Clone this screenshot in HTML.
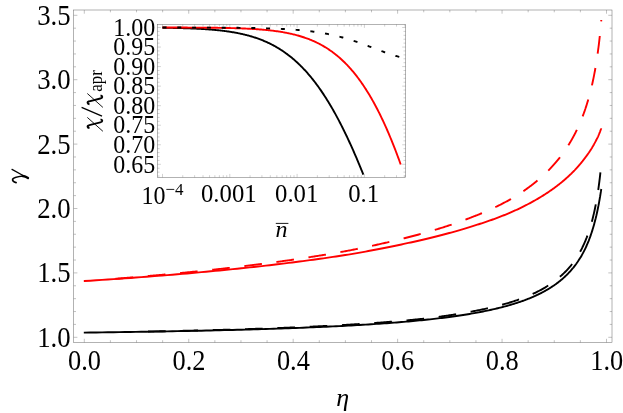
<!DOCTYPE html>
<html><head><meta charset="utf-8"><title>plot</title>
<style>
html,body{margin:0;padding:0;background:#fff;}
svg{display:block;will-change:transform;}
text{font-family:"Liberation Serif",serif;fill:#000;}
</style></head>
<body>
<svg width="623" height="413" viewBox="0 0 623 413">
<rect x="0" y="0" width="623" height="413" fill="#fff"/>
<rect x="73.70" y="10.00" width="538.30" height="332.50" fill="none" stroke="#666" stroke-width="0.5"/>
<path d="M84.30 342.50 v-3.70 M84.30 10.00 v3.70 M110.41 342.50 v-2.30 M110.41 10.00 v2.30 M136.52 342.50 v-2.30 M136.52 10.00 v2.30 M162.63 342.50 v-2.30 M162.63 10.00 v2.30 M188.74 342.50 v-3.70 M188.74 10.00 v3.70 M214.85 342.50 v-2.30 M214.85 10.00 v2.30 M240.96 342.50 v-2.30 M240.96 10.00 v2.30 M267.07 342.50 v-2.30 M267.07 10.00 v2.30 M293.18 342.50 v-3.70 M293.18 10.00 v3.70 M319.29 342.50 v-2.30 M319.29 10.00 v2.30 M345.40 342.50 v-2.30 M345.40 10.00 v2.30 M371.51 342.50 v-2.30 M371.51 10.00 v2.30 M397.62 342.50 v-3.70 M397.62 10.00 v3.70 M423.73 342.50 v-2.30 M423.73 10.00 v2.30 M449.84 342.50 v-2.30 M449.84 10.00 v2.30 M475.95 342.50 v-2.30 M475.95 10.00 v2.30 M502.06 342.50 v-3.70 M502.06 10.00 v3.70 M528.17 342.50 v-2.30 M528.17 10.00 v2.30 M554.28 342.50 v-2.30 M554.28 10.00 v2.30 M580.39 342.50 v-2.30 M580.39 10.00 v2.30 M606.50 342.50 v-3.70 M606.50 10.00 v3.70 M73.70 337.30 h3.70 M612.00 337.30 h-3.70 M73.70 324.42 h2.30 M612.00 324.42 h-2.30 M73.70 311.54 h2.30 M612.00 311.54 h-2.30 M73.70 298.66 h2.30 M612.00 298.66 h-2.30 M73.70 285.78 h2.30 M612.00 285.78 h-2.30 M73.70 272.90 h3.70 M612.00 272.90 h-3.70 M73.70 260.02 h2.30 M612.00 260.02 h-2.30 M73.70 247.14 h2.30 M612.00 247.14 h-2.30 M73.70 234.26 h2.30 M612.00 234.26 h-2.30 M73.70 221.38 h2.30 M612.00 221.38 h-2.30 M73.70 208.50 h3.70 M612.00 208.50 h-3.70 M73.70 195.62 h2.30 M612.00 195.62 h-2.30 M73.70 182.74 h2.30 M612.00 182.74 h-2.30 M73.70 169.86 h2.30 M612.00 169.86 h-2.30 M73.70 156.98 h2.30 M612.00 156.98 h-2.30 M73.70 144.10 h3.70 M612.00 144.10 h-3.70 M73.70 131.22 h2.30 M612.00 131.22 h-2.30 M73.70 118.34 h2.30 M612.00 118.34 h-2.30 M73.70 105.46 h2.30 M612.00 105.46 h-2.30 M73.70 92.58 h2.30 M612.00 92.58 h-2.30 M73.70 79.70 h3.70 M612.00 79.70 h-3.70 M73.70 66.82 h2.30 M612.00 66.82 h-2.30 M73.70 53.94 h2.30 M612.00 53.94 h-2.30 M73.70 41.06 h2.30 M612.00 41.06 h-2.30 M73.70 28.18 h2.30 M612.00 28.18 h-2.30 M73.70 15.30 h3.70 M612.00 15.30 h-3.70" stroke="#666" stroke-width="0.40" fill="none"/>
<text transform="translate(70.70 346.80) scale(1.030 1.095)" font-size="26" text-anchor="end">1.0</text>
<text transform="translate(70.70 282.40) scale(1.030 1.095)" font-size="26" text-anchor="end">1.5</text>
<text transform="translate(70.70 218.00) scale(1.030 1.095)" font-size="26" text-anchor="end">2.0</text>
<text transform="translate(70.70 153.60) scale(1.030 1.095)" font-size="26" text-anchor="end">2.5</text>
<text transform="translate(70.70 89.20) scale(1.030 1.095)" font-size="26" text-anchor="end">3.0</text>
<text transform="translate(70.70 24.80) scale(1.030 1.095)" font-size="26" text-anchor="end">3.5</text>
<text transform="translate(84.50 369.70) scale(1.015 1.095)" font-size="26" text-anchor="middle">0.0</text>
<text transform="translate(188.94 369.70) scale(1.015 1.095)" font-size="26" text-anchor="middle">0.2</text>
<text transform="translate(293.38 369.70) scale(1.015 1.095)" font-size="26" text-anchor="middle">0.4</text>
<text transform="translate(397.82 369.70) scale(1.015 1.095)" font-size="26" text-anchor="middle">0.6</text>
<text transform="translate(502.26 369.70) scale(1.015 1.095)" font-size="26" text-anchor="middle">0.8</text>
<text transform="translate(606.70 369.70) scale(1.015 1.095)" font-size="26" text-anchor="middle">1.0</text>
<text x="342.8" y="405.8" font-size="26" font-style="italic" text-anchor="middle">η</text>
<g transform="translate(11.8 183) rotate(-90)" fill="none" stroke="#000" stroke-linecap="round">
<path d="M0.4 4.3 C0.9 1.6 2.6 0.4 3.9 0.9 C5.3 1.5 6.3 6 7.0 11.2" stroke-width="1.7"/>
<path d="M7.0 11.0 C6.8 13 5.8 15 5.0 16.2" stroke-width="2.3"/>
<path d="M13.6 0.2 L6.3 13.5" stroke-width="1.2"/>
</g>
<g fill="none" stroke-width="1.9" stroke-linecap="butt" stroke-linejoin="round">
<path d="M83.80 332.61 L84.30 332.60 L90.29 332.53 L96.22 332.45 L102.07 332.37 L107.86 332.29 L113.58 332.21 L119.24 332.13 L124.83 332.05 L130.36 331.97 L135.82 331.88 L141.22 331.80 L146.56 331.71 L151.84 331.62 L157.06 331.53 L162.22 331.44 L167.31 331.35 L172.35 331.26 L177.34 331.17 L182.26 331.07 L187.13 330.97 L191.94 330.88 L196.70 330.78 L201.40 330.68 L206.05 330.57 L210.65 330.47 L215.19 330.37 L219.68 330.26 L224.12 330.15 L228.51 330.05 L232.84 329.94 L237.13 329.82 L241.37 329.71 L245.56 329.60 L249.70 329.48 L253.80 329.36 L257.84 329.24 L261.84 329.12 L265.80 329.00 L269.71 328.88 L273.57 328.76 L277.39 328.63 L281.17 328.50 L284.90 328.37 L288.59 328.24 L292.24 328.11 L295.85 327.97 L299.41 327.84 L302.94 327.70 L306.42 327.56 L309.86 327.42 L313.27 327.28 L316.63 327.14 L319.96 326.99 L323.25 326.85 L326.50 326.70 L329.71 326.55 L332.89 326.40 L336.03 326.24 L339.13 326.09 L342.20 325.93 L345.23 325.77 L348.23 325.61 L351.19 325.45 L354.12 325.29 L357.02 325.12 L359.88 324.95 L362.71 324.78 L365.51 324.61 L368.28 324.44 L371.01 324.27 L373.71 324.09 L376.38 323.91 L379.02 323.74 L381.63 323.55 L384.22 323.37 L386.77 323.19 L389.29 323.00 L391.78 322.81 L394.24 322.62 L396.68 322.43 L399.09 322.24 L401.47 322.04 L403.82 321.84 L406.15 321.64 L408.45 321.44 L410.72 321.24 L412.97 321.03 L415.19 320.83 L417.38 320.62 L419.55 320.41 L421.70 320.20 L423.82 319.98 L425.91 319.77 L427.99 319.55 L430.03 319.33 L432.06 319.10 L434.06 318.88 L436.04 318.65 L438.00 318.42 L439.93 318.18 L441.84 317.95 L443.73 317.71 L445.60 317.47 L447.45 317.23 L449.27 316.99 L451.07 316.75 L452.86 316.50 L454.62 316.25 L456.36 316.00 L458.09 315.75 L459.79 315.50 L461.47 315.24 L463.14 314.99 L464.78 314.73 L466.41 314.47 L468.02 314.20 L469.61 313.94 L471.18 313.67 L472.73 313.40 L474.27 313.13 L475.78 312.86 L477.28 312.59 L478.77 312.31 L480.23 312.03 L481.68 311.75 L483.11 311.47 L484.53 311.18 L485.93 310.90 L487.31 310.61 L488.68 310.32 L490.03 310.03 L491.37 309.74 L492.69 309.44 L494.00 309.14 L495.29 308.84 L496.56 308.54 L497.82 308.24 L499.07 307.93 L500.30 307.63 L501.52 307.32 L502.73 307.01 L503.92 306.70 L505.10 306.38 L506.26 306.06 L507.41 305.75 L508.55 305.43 L509.67 305.10 L510.78 304.78 L511.88 304.45 L512.97 304.13 L514.04 303.80 L515.10 303.46 L516.15 303.13 L517.19 302.80 L518.21 302.46 L519.22 302.12 L520.23 301.78 L521.22 301.43 L522.19 301.09 L523.16 300.74 L524.12 300.40 L525.06 300.04 L526.00 299.69 L526.92 299.34 L527.83 298.98 L528.74 298.63 L529.63 298.27 L530.51 297.90 L531.38 297.54 L532.25 297.18 L533.10 296.81 L533.94 296.44 L534.77 296.07 L535.60 295.70 L536.41 295.32 L537.21 294.95 L538.01 294.57 L538.80 294.19 L539.57 293.81 L540.34 293.43 L541.10 293.04 L541.85 292.66 L542.59 292.27 L543.33 291.88 L544.05 291.49 L544.77 291.09 L545.48 290.70 L546.18 290.30 L546.87 289.90 L547.55 289.50 L548.23 289.10 L548.90 288.70 L549.56 288.29 L550.21 287.89 L550.86 287.48 L551.50 287.07 L552.13 286.66 L552.75 286.24 L553.37 285.83 L553.98 285.41 L554.58 284.99 L555.18 284.58 L555.77 284.15 L556.35 283.73 L556.92 283.31 L557.49 282.88 L558.05 282.45 L558.61 282.02 L559.16 281.59 L559.70 281.16 L560.24 280.73 L560.77 280.29 L561.30 279.86 L561.81 279.42 L562.33 278.98 L562.83 278.54 L563.34 278.09 L563.83 277.65 L564.32 277.21 L564.80 276.76 L565.28 276.31 L565.76 275.86 L566.22 275.41 L566.69 274.96 L567.14 274.50 L567.59 274.05 L568.04 273.59 L568.48 273.14 L568.92 272.68 L569.35 272.22 L569.78 271.76 L570.20 271.29 L570.61 270.83 L571.03 270.36 L571.43 269.90 L571.83 269.43 L572.23 268.96 L572.63 268.49 L573.01 268.02 L573.40 267.55 L573.78 267.07 L574.15 266.60 L574.53 266.12 L574.89 265.65 L575.26 265.17 L575.61 264.69 L575.97 264.21 L576.32 263.73 L576.66 263.24 L577.01 262.76 L577.35 262.28 L577.68 261.79 L578.01 261.30 L578.34 260.82 L578.66 260.33 L578.98 259.84 L579.30 259.35 L579.61 258.86 L579.92 258.37 L580.22 257.87 L580.52 257.38 L580.82 256.89 L581.12 256.39 L581.41 255.90 L581.70 255.40 L581.98 254.90 L582.26 254.40 L582.54 253.90 L582.81 253.40 L583.09 252.90 L583.36 252.40 L583.62 251.90 L583.88 251.40 L584.14 250.89 L584.40 250.39 L584.65 249.89 L584.90 249.38 L585.15 248.87 L585.40 248.35 L585.64 247.83 L585.88 247.31 L586.11 246.79 L586.35 246.27 L586.58 245.76 L586.81 245.24 L587.03 244.71 L587.26 244.19 L587.48 243.67 L587.70 243.15 L587.91 242.63 L588.13 242.11 L588.34 241.59 L588.55 241.07 L588.75 240.54 L588.96 240.02 L589.16 239.50 L589.36 238.98 L589.55 238.46 L589.75 237.93 L589.94 237.41 L590.13 236.89 L590.32 236.37 L590.50 235.84 L590.69 235.32 L590.87 234.80 L591.05 234.28 L591.22 233.76 L591.40 233.23 L591.57 232.71 L591.74 232.19 L591.91 231.67 L592.08 231.15 L592.25 230.63 L592.41 230.11 L592.57 229.59 L592.73 229.07 L592.89 228.55 L593.05 228.03 L593.20 227.51 L593.35 226.99 L593.50 226.47 L593.65 225.95 L593.80 225.44 L593.95 224.92 L594.09 224.40 L594.23 223.89 L594.37 223.37 L594.51 222.86 L594.65 222.34 L594.79 221.83 L594.92 221.32 L595.05 220.81 L595.18 220.30 L595.31 219.78 L595.44 219.27 L595.57 218.77 L595.69 218.26 L595.82 217.75 L595.94 217.24 L596.06 216.74 L596.18 216.23 L596.30 215.73 L596.42 215.23 L596.53 214.72 L596.65 214.22 L596.76 213.72 L596.87 213.22 L596.98 212.73 L597.09 212.23 L597.20 211.73 L597.31 211.24 L597.41 210.75 L597.52 210.25 L597.62 209.76 L597.72 209.27 L597.82 208.79 L597.92 208.30 L598.02 207.81 L598.12 207.33 L598.21 206.85 L598.31 206.36 L598.40 205.88 L598.50 205.41 L598.59 204.93 L598.68 204.45 L598.77 203.98 L598.86 203.51 L598.94 203.04 L599.03 202.57 L599.12 202.10 L599.20 201.63 L599.29 201.17 L599.37 200.71 L599.45 200.25 L599.53 199.79 L599.61 199.33 L599.69 198.88 L599.77 198.42 L599.85 197.97 L599.92 197.52 L600.00 197.08 L600.07 196.63 L600.15 196.19 L600.22 195.75 L600.29 195.31 L600.36 194.87 L600.43 194.44 L600.50 194.01 L600.57 193.58 L600.64 193.15 L600.71 192.72 L600.77 192.30 L600.84 191.88 L600.90 191.46 L600.97 191.05 L601.03 190.63 L601.09 190.22 L601.16 189.82 L601.22 189.41 L601.28 189.01" stroke="#000"/>
<path d="M147.99 331.56 L148.79 331.54 L149.79 331.52 L150.79 331.50 L151.79 331.48 L152.79 331.46 L153.79 331.44 L154.79 331.42 L155.79 331.40 L156.79 331.39 L157.79 331.36 L158.79 331.34 L159.79 331.32 L160.79 331.30 L161.79 331.28 L162.79 331.26 L163.79 331.24 L164.79 331.22 L165.69 331.20 M180.33 330.88 L181.28 330.86 L182.28 330.84 L183.28 330.82 L184.28 330.79 L185.28 330.77 L186.28 330.75 L187.28 330.72 L188.28 330.70 L189.28 330.68 L190.28 330.65 L191.28 330.63 L192.28 330.61 L193.28 330.58 L194.28 330.56 L195.28 330.53 L196.28 330.51 L197.28 330.49 L198.03 330.47 M212.67 330.09 L213.52 330.07 L214.52 330.04 L215.52 330.02 L216.52 329.99 L217.52 329.96 L218.52 329.94 L219.52 329.91 L220.52 329.88 L221.52 329.85 L222.52 329.83 L223.52 329.80 L224.52 329.77 L225.52 329.74 L226.52 329.71 L227.52 329.69 L228.52 329.66 L229.52 329.63 L230.37 329.60 M245.01 329.16 L245.76 329.14 L246.76 329.11 L247.76 329.08 L248.76 329.04 L249.76 329.01 L250.76 328.98 L251.76 328.95 L252.76 328.91 L253.76 328.88 L254.76 328.85 L255.76 328.82 L256.76 328.78 L257.75 328.75 L258.75 328.72 L259.75 328.68 L260.75 328.65 L261.75 328.61 L262.70 328.58 M277.34 328.05 L278.24 328.02 L279.24 327.98 L280.24 327.94 L281.24 327.91 L282.24 327.87 L283.24 327.83 L284.24 327.79 L285.24 327.75 L286.24 327.71 L287.23 327.67 L288.23 327.63 L289.23 327.59 L290.23 327.55 L291.23 327.51 L292.23 327.47 L293.23 327.43 L294.23 327.39 L295.03 327.35 M309.66 326.72 L310.46 326.68 L311.46 326.63 L312.46 326.59 L313.46 326.54 L314.46 326.49 L315.46 326.45 L316.46 326.40 L317.46 326.35 L318.45 326.30 L319.45 326.26 L320.45 326.21 L321.45 326.16 L322.45 326.11 L323.45 326.06 L324.45 326.01 L325.45 325.96 L326.44 325.91 L327.34 325.86 M341.97 325.08 L342.92 325.02 L343.92 324.97 L344.92 324.91 L345.92 324.85 L346.91 324.79 L347.91 324.73 L348.91 324.68 L349.91 324.62 L350.91 324.56 L351.91 324.50 L352.90 324.44 L353.90 324.37 L354.90 324.31 L355.90 324.25 L356.90 324.19 L357.89 324.13 L358.89 324.06 L359.64 324.01 M374.26 323.03 L375.11 322.97 L376.10 322.89 L377.10 322.82 L378.10 322.75 L379.09 322.67 L380.09 322.60 L381.09 322.52 L382.09 322.45 L383.08 322.37 L384.08 322.30 L385.08 322.22 L386.07 322.14 L387.07 322.06 L388.07 321.98 L389.06 321.90 L390.06 321.82 L391.06 321.74 L391.91 321.67 M406.50 320.40 L407.25 320.33 L408.24 320.23 L409.24 320.14 L410.23 320.04 L411.23 319.95 L412.22 319.85 L413.22 319.75 L414.21 319.65 L415.21 319.56 L416.20 319.46 L417.20 319.35 L418.19 319.25 L419.19 319.15 L420.18 319.04 L421.18 318.94 L422.17 318.83 L423.17 318.73 L424.11 318.62 M438.65 316.84 L439.54 316.72 L440.53 316.58 L441.52 316.45 L442.51 316.31 L443.50 316.17 L444.49 316.03 L445.48 315.89 L446.47 315.74 L447.46 315.60 L448.45 315.45 L449.44 315.31 L450.43 315.16 L451.42 315.01 L452.41 314.85 L453.40 314.70 L454.38 314.55 L455.37 314.39 L456.16 314.26 M470.60 311.76 L471.38 311.61 L472.36 311.43 L473.35 311.24 L474.33 311.05 L475.31 310.86 L476.29 310.67 L477.27 310.48 L478.25 310.28 L479.24 310.09 L480.22 309.89 L481.20 309.69 L482.17 309.49 L483.15 309.28 L484.13 309.08 L485.11 308.87 L486.09 308.65 L487.06 308.44 L487.94 308.24 M502.16 304.73 L503.08 304.48 L504.04 304.21 L505.00 303.94 L505.97 303.66 L506.93 303.38 L507.89 303.10 L508.84 302.81 L509.80 302.52 L510.76 302.23 L511.71 301.93 L512.66 301.62 L513.61 301.32 L514.56 301.00 L515.51 300.69 L516.46 300.37 L517.41 300.04 L518.35 299.71 L519.06 299.46 M532.64 293.98 L533.41 293.62 L534.31 293.20 L535.22 292.77 L536.12 292.33 L537.01 291.89 L537.91 291.44 L538.80 290.98 L539.68 290.52 L540.56 290.05 L541.44 289.57 L542.32 289.08 L543.19 288.59 L544.05 288.09 L544.92 287.59 L545.77 287.07 L546.63 286.55 L547.48 286.02 L548.19 285.56 M559.92 276.80 L560.48 276.31 L561.23 275.65 L561.97 274.98 L562.71 274.30 L563.44 273.61 L564.16 272.92 L564.87 272.22 L565.57 271.51 L566.27 270.79 L566.95 270.06 L567.63 269.32 L568.30 268.58 L568.96 267.83 L569.61 267.07 L570.26 266.31 L570.89 265.53 L571.52 264.76 L572.10 264.01 M580.12 251.76 L580.55 250.97 L581.02 250.09 L581.49 249.21 L581.94 248.31 L582.39 247.42 L582.82 246.52 L583.25 245.62 L583.68 244.71 L584.09 243.80 L584.50 242.89 L584.90 241.97 L585.29 241.05 L585.67 240.13 L586.05 239.20 L586.41 238.27 L586.78 237.34 L587.13 236.40 L587.41 235.65 M591.83 221.69 L592.04 220.92 L592.30 219.95 L592.55 218.99 L592.80 218.02 L593.04 217.05 L593.27 216.07 L593.51 215.10 L593.74 214.13 L593.96 213.15 L594.18 212.18 L594.40 211.20 L594.61 210.22 L594.82 209.25 L595.02 208.27 L595.22 207.29 L595.42 206.31 L595.61 205.33 L595.78 204.44 M598.21 190.00 L598.35 189.06 L598.49 188.07 L598.63 187.08 L598.76 186.09 L598.90 185.09 L599.03 184.10 L599.16 183.11 L599.29 182.12 L599.41 181.13 L599.53 180.13 L599.66 179.14 L599.78 178.15 L599.89 177.16 L600.01 176.16 L600.12 175.17 L600.23 174.18 L600.34 173.18 L600.42 172.44" stroke="#000"/>
<path d="M83.80 281.09 L84.30 281.06 L90.29 280.68 L96.22 280.29 L102.07 279.90 L107.86 279.51 L113.58 279.12 L119.24 278.73 L124.83 278.33 L130.36 277.94 L135.82 277.54 L141.22 277.14 L146.56 276.73 L151.84 276.33 L157.06 275.92 L162.22 275.51 L167.31 275.10 L172.35 274.69 L177.34 274.27 L182.26 273.86 L187.13 273.44 L191.94 273.02 L196.70 272.60 L201.40 272.17 L206.05 271.75 L210.65 271.32 L215.19 270.89 L219.68 270.46 L224.12 270.03 L228.51 269.60 L232.84 269.16 L237.13 268.73 L241.37 268.29 L245.56 267.85 L249.70 267.41 L253.80 266.97 L257.84 266.53 L261.84 266.08 L265.80 265.63 L269.71 265.19 L273.57 264.74 L277.39 264.29 L281.17 263.84 L284.90 263.38 L288.59 262.93 L292.24 262.47 L295.85 262.02 L299.41 261.56 L302.94 261.10 L306.42 260.64 L309.86 260.18 L313.27 259.72 L316.63 259.26 L319.96 258.79 L323.25 258.33 L326.50 257.86 L329.71 257.39 L332.89 256.92 L336.03 256.45 L339.13 255.98 L342.20 255.51 L345.23 255.04 L348.23 254.57 L351.19 254.08 L354.12 253.58 L357.02 253.08 L359.88 252.57 L362.71 252.07 L365.51 251.56 L368.28 251.05 L371.01 250.55 L373.71 250.04 L376.38 249.53 L379.02 249.03 L381.63 248.52 L384.22 248.01 L386.77 247.50 L389.29 246.99 L391.78 246.48 L394.24 245.98 L396.68 245.47 L399.09 244.96 L401.47 244.45 L403.82 243.94 L406.15 243.43 L408.45 242.94 L410.72 242.45 L412.97 241.96 L415.19 241.46 L417.38 240.97 L419.55 240.48 L421.70 239.98 L423.82 239.49 L425.91 238.99 L427.99 238.50 L430.03 238.00 L432.06 237.51 L434.06 237.01 L436.04 236.52 L438.00 236.02 L439.93 235.52 L441.84 235.03 L443.73 234.53 L445.60 234.04 L447.45 233.54 L449.27 233.04 L451.07 232.55 L452.86 232.05 L454.62 231.55 L456.36 231.06 L458.09 230.56 L459.79 230.06 L461.47 229.56 L463.14 229.07 L464.78 228.57 L466.41 228.07 L468.02 227.58 L469.61 227.08 L471.18 226.60 L472.73 226.13 L474.27 225.66 L475.78 225.18 L477.28 224.71 L478.77 224.24 L480.23 223.76 L481.68 223.29 L483.11 222.82 L484.53 222.34 L485.93 221.87 L487.31 221.40 L488.68 220.92 L490.03 220.45 L491.37 219.98 L492.69 219.50 L494.00 219.03 L495.29 218.56 L496.56 218.09 L497.82 217.61 L499.07 217.14 L500.30 216.67 L501.52 216.20 L502.73 215.73 L503.92 215.25 L505.10 214.78 L506.26 214.31 L507.41 213.84 L508.55 213.37 L509.67 212.90 L510.78 212.42 L511.88 211.94 L512.97 211.45 L514.04 210.97 L515.10 210.48 L516.15 210.00 L517.19 209.52 L518.21 209.03 L519.22 208.55 L520.23 208.07 L521.22 207.59 L522.19 207.11 L523.16 206.63 L524.12 206.15 L525.06 205.68 L526.00 205.20 L526.92 204.72 L527.83 204.25 L528.74 203.78 L529.63 203.30 L530.51 202.83 L531.38 202.36 L532.25 201.89 L533.10 201.41 L533.94 200.94 L534.77 200.48 L535.60 200.01 L536.41 199.54 L537.21 199.07 L538.01 198.61 L538.80 198.14 L539.57 197.68 L540.34 197.22 L541.10 196.76 L541.85 196.30 L542.59 195.84 L543.33 195.38 L544.05 194.92 L544.77 194.46 L545.48 194.01 L546.18 193.55 L546.87 193.10 L547.55 192.64 L548.23 192.19 L548.90 191.74 L549.56 191.29 L550.21 190.84 L550.86 190.39 L551.50 189.95 L552.13 189.50 L552.75 189.06 L553.37 188.61 L553.98 188.17 L554.58 187.73 L555.18 187.29 L555.77 186.85 L556.35 186.41 L556.92 185.98 L557.49 185.54 L558.05 185.11 L558.61 184.68 L559.16 184.24 L559.70 183.81 L560.24 183.38 L560.77 182.95 L561.30 182.53 L561.81 182.10 L562.33 181.68 L562.83 181.25 L563.34 180.83 L563.83 180.41 L564.32 179.99 L564.80 179.57 L565.28 179.16 L565.76 178.74 L566.22 178.33 L566.69 177.91 L567.14 177.50 L567.59 177.09 L568.04 176.68 L568.48 176.28 L568.92 175.87 L569.35 175.46 L569.78 175.06 L570.20 174.66 L570.61 174.26 L571.03 173.86 L571.43 173.46 L571.83 173.06 L572.23 172.67 L572.63 172.28 L573.01 171.88 L573.40 171.49 L573.78 171.10 L574.15 170.72 L574.53 170.33 L574.89 169.94 L575.26 169.56 L575.61 169.18 L575.97 168.80 L576.32 168.42 L576.66 168.04 L577.01 167.66 L577.35 167.29 L577.68 166.92 L578.01 166.54 L578.34 166.17 L578.66 165.81 L578.98 165.44 L579.30 165.07 L579.61 164.71 L579.92 164.35 L580.22 163.99 L580.52 163.63 L580.82 163.27 L581.12 162.91 L581.41 162.56 L581.70 162.20 L581.98 161.85 L582.26 161.50 L582.54 161.16 L582.81 160.81 L583.09 160.46 L583.36 160.12 L583.62 159.78 L583.88 159.44 L584.14 159.10 L584.40 158.76 L584.65 158.43 L584.90 158.09 L585.15 157.76 L585.40 157.44 L585.64 157.12 L585.88 156.80 L586.11 156.48 L586.35 156.16 L586.58 155.85 L586.81 155.53 L587.03 155.22 L587.26 154.91 L587.48 154.60 L587.70 154.29 L587.91 153.99 L588.13 153.68 L588.34 153.38 L588.55 153.08 L588.75 152.78 L588.96 152.48 L589.16 152.18 L589.36 151.89 L589.55 151.60 L589.75 151.31 L589.94 151.02 L590.13 150.73 L590.32 150.44 L590.50 150.16 L590.69 149.87 L590.87 149.59 L591.05 149.31 L591.22 149.03 L591.40 148.76 L591.57 148.48 L591.74 148.21 L591.91 147.94 L592.08 147.66 L592.25 147.38 L592.41 147.10 L592.57 146.82 L592.73 146.55 L592.89 146.27 L593.05 146.00 L593.20 145.73 L593.35 145.46 L593.50 145.20 L593.65 144.93 L593.80 144.67 L593.95 144.41 L594.09 144.15 L594.23 143.89 L594.37 143.64 L594.51 143.38 L594.65 143.13 L594.79 142.88 L594.92 142.63 L595.05 142.39 L595.18 142.14 L595.31 141.90 L595.44 141.66 L595.57 141.42 L595.69 141.18 L595.82 140.95 L595.94 140.71 L596.06 140.48 L596.18 140.25 L596.30 140.02 L596.42 139.80 L596.53 139.57 L596.65 139.35 L596.76 139.13 L596.87 138.91 L596.98 138.69 L597.09 138.48 L597.20 138.27 L597.31 138.05 L597.41 137.84 L597.52 137.64 L597.62 137.43 L597.72 137.23 L597.82 137.02 L597.92 136.82 L598.02 136.62 L598.12 136.39 L598.21 136.16 L598.31 135.93 L598.40 135.70 L598.50 135.48 L598.59 135.26 L598.68 135.04 L598.77 134.83 L598.86 134.61 L598.94 134.40 L599.03 134.19 L599.12 133.98 L599.20 133.78 L599.29 133.57 L599.37 133.37 L599.45 133.17 L599.53 132.98 L599.61 132.78 L599.69 132.59 L599.77 132.40 L599.85 132.21 L599.92 132.02 L600.00 131.84 L600.07 131.63 L600.15 131.42 L600.22 131.21 L600.29 131.00 L600.36 130.80 L600.43 130.60 L600.50 130.40 L600.57 130.20 L600.64 130.01 L600.71 129.82 L600.77 129.63 L600.84 129.44 L600.90 129.26 L600.97 129.08 L601.03 128.89 L601.09 128.72 L601.16 128.54 L601.22 128.37 L601.28 128.20" stroke="#f00"/>
<path d="M115.56 278.74 L116.46 278.67 L117.46 278.60 L118.45 278.52 L119.45 278.44 L120.45 278.36 L121.44 278.28 L122.44 278.20 L123.44 278.12 L124.44 278.04 L125.43 277.96 L126.43 277.88 L127.43 277.79 L128.42 277.71 L129.42 277.63 L130.42 277.55 L131.41 277.47 L132.41 277.38 L133.21 277.32 M147.80 276.07 L148.60 276.00 L149.60 275.91 L150.59 275.82 L151.59 275.74 L152.58 275.65 L153.58 275.56 L154.58 275.47 L155.57 275.38 L156.57 275.29 L157.56 275.20 L158.56 275.11 L159.56 275.02 L160.55 274.93 L161.55 274.84 L162.54 274.75 L163.54 274.65 L164.53 274.56 L165.43 274.48 M180.01 273.09 L180.96 273.00 L181.96 272.90 L182.95 272.81 L183.95 272.71 L184.94 272.61 L185.94 272.51 L186.93 272.41 L187.93 272.31 L188.92 272.21 L189.92 272.11 L190.91 272.01 L191.91 271.91 L192.90 271.81 L193.90 271.71 L194.89 271.61 L195.89 271.51 L196.88 271.40 L197.63 271.33 M212.20 269.79 L213.04 269.70 L214.03 269.59 L215.03 269.48 L216.02 269.37 L217.02 269.26 L218.01 269.15 L219.00 269.04 L220.00 268.93 L220.99 268.82 L221.99 268.71 L222.98 268.60 L223.97 268.49 L224.97 268.38 L225.96 268.26 L226.95 268.15 L227.95 268.04 L228.94 267.92 L229.79 267.83 M244.34 266.11 L245.08 266.02 L246.07 265.90 L247.07 265.78 L248.06 265.66 L249.05 265.54 L250.04 265.41 L251.04 265.29 L252.03 265.17 L253.02 265.05 L254.01 264.92 L255.00 264.80 L256.00 264.67 L256.99 264.55 L257.98 264.42 L258.97 264.29 L259.97 264.17 L260.96 264.04 L261.90 263.92 M276.42 262.00 L277.31 261.88 L278.31 261.74 L279.30 261.61 L280.29 261.47 L281.28 261.33 L282.27 261.20 L283.26 261.06 L284.25 260.92 L285.24 260.78 L286.23 260.64 L287.22 260.50 L288.21 260.36 L289.20 260.22 L290.19 260.08 L291.18 259.94 L292.17 259.79 L293.16 259.65 L293.95 259.53 M308.44 257.36 L309.23 257.24 L310.22 257.09 L311.21 256.93 L312.19 256.78 L313.18 256.63 L314.17 256.47 L315.16 256.31 L316.14 256.16 L317.13 256.00 L318.12 255.84 L319.11 255.68 L320.09 255.52 L321.08 255.36 L322.07 255.20 L323.06 255.04 L324.04 254.88 L325.03 254.71 L325.92 254.57 M340.36 252.09 L341.29 251.92 L342.28 251.75 L343.26 251.57 L344.24 251.39 L345.23 251.22 L346.21 251.04 L347.20 250.86 L348.18 250.68 L349.16 250.49 L350.14 250.31 L351.13 250.12 L352.11 249.93 L353.09 249.74 L354.07 249.54 L355.05 249.35 L356.03 249.15 L357.01 248.95 L357.75 248.80 M372.09 245.81 L372.92 245.63 L373.89 245.41 L374.87 245.20 L375.85 244.98 L376.82 244.77 L377.80 244.55 L378.78 244.33 L379.75 244.12 L380.73 243.90 L381.70 243.68 L382.68 243.45 L383.65 243.23 L384.63 243.01 L385.60 242.78 L386.58 242.56 L387.55 242.33 L388.52 242.10 L389.35 241.90 M403.58 238.41 L404.31 238.23 L405.28 237.98 L406.24 237.74 L407.21 237.49 L408.18 237.25 L409.15 237.00 L410.12 236.75 L411.09 236.51 L412.06 236.26 L413.03 236.00 L413.99 235.75 L414.96 235.50 L415.93 235.24 L416.89 234.98 L417.86 234.72 L418.82 234.46 L419.79 234.20 L420.71 233.95 M434.79 229.92 L435.65 229.66 L436.61 229.37 L437.56 229.07 L438.52 228.78 L439.48 228.49 L440.43 228.19 L441.39 227.89 L442.34 227.59 L443.29 227.29 L444.25 226.98 L445.20 226.68 L446.15 226.37 L447.10 226.06 L448.05 225.75 L449.00 225.43 L449.95 225.12 L450.90 224.80 L451.65 224.55 M465.45 219.62 L466.20 219.34 L467.14 218.99 L468.07 218.63 L469.00 218.27 L469.94 217.91 L470.87 217.55 L471.80 217.20 L472.74 216.84 L473.67 216.48 L474.60 216.12 L475.53 215.75 L476.46 215.38 L477.39 215.01 L478.32 214.64 L479.25 214.26 L480.17 213.88 L481.09 213.50 L481.93 213.15 M495.30 207.17 L496.15 206.76 L497.05 206.32 L497.95 205.88 L498.85 205.44 L499.74 204.99 L500.64 204.54 L501.53 204.09 L502.42 203.63 L503.30 203.17 L504.19 202.71 L505.07 202.24 L505.96 201.77 L506.84 201.30 L507.71 200.82 L508.59 200.33 L509.46 199.85 L510.33 199.35 L510.98 198.98 M523.37 191.15 L524.07 190.67 L524.89 190.10 L525.71 189.53 L526.52 188.95 L527.34 188.37 L528.15 187.78 L528.95 187.19 L529.76 186.60 L530.56 186.00 L531.35 185.39 L532.14 184.78 L532.93 184.17 L533.72 183.55 L534.50 182.93 L535.28 182.30 L536.06 181.67 L536.83 181.03 L537.48 180.49 M548.26 170.58 L548.79 170.05 L549.49 169.33 L550.18 168.61 L550.87 167.88 L551.55 167.15 L552.23 166.42 L552.91 165.68 L553.57 164.94 L554.24 164.19 L554.90 163.43 L555.55 162.68 L556.20 161.92 L556.84 161.15 L557.48 160.38 L558.11 159.61 L558.74 158.83 L559.36 158.04 L559.94 157.29 M568.34 145.30 L568.82 144.53 L569.34 143.68 L569.86 142.83 L570.37 141.97 L570.88 141.11 L571.38 140.24 L571.88 139.37 L572.37 138.50 L572.85 137.63 L573.33 136.75 L573.80 135.87 L574.27 134.98 L574.73 134.10 L575.19 133.21 L575.64 132.31 L576.09 131.42 L576.53 130.52 L576.88 129.80 M582.65 116.34 L582.94 115.60 L583.29 114.66 L583.64 113.72 L583.98 112.78 L584.31 111.84 L584.65 110.90 L584.97 109.95 L585.30 109.01 L585.61 108.06 L585.93 107.11 L586.24 106.16 L586.54 105.20 L586.84 104.25 L587.14 103.30 L587.43 102.34 L587.72 101.38 L588.00 100.42 L588.26 99.56 M591.92 85.38 L592.14 84.45 L592.35 83.48 L592.57 82.50 L592.78 81.52 L592.99 80.54 L593.20 79.57 L593.40 78.59 L593.60 77.61 L593.80 76.63 L594.00 75.65 L594.19 74.66 L594.38 73.68 L594.56 72.70 L594.75 71.72 L594.93 70.73 L595.10 69.75 L595.28 68.76 L595.41 68.03 M597.66 53.55 L597.78 52.71 L597.91 51.72 L598.04 50.73 L598.17 49.74 L598.30 48.74 L598.43 47.75 L598.55 46.76 L598.68 45.77 L598.80 44.77 L598.92 43.78 L599.03 42.79 L599.15 41.80 L599.26 40.80 L599.37 39.81 L599.48 38.81 L599.59 37.82 L599.70 36.83 L599.79 35.98 M601.16 21.40 L601.23 20.65 L601.28 20.03" stroke="#f00"/>
</g>
<rect x="157.40" y="24.40" width="248.30" height="153.00" fill="#fff" stroke="#666" stroke-width="0.5"/>
<path d="M157.40 176.04 h2.20 M405.70 176.04 h-2.20 M157.40 172.13 h2.20 M405.70 172.13 h-2.20 M157.40 168.22 h2.20 M405.70 168.22 h-2.20 M157.40 164.31 h3.50 M405.70 164.31 h-3.50 M157.40 160.41 h2.20 M405.70 160.41 h-2.20 M157.40 156.50 h2.20 M405.70 156.50 h-2.20 M157.40 152.59 h2.20 M405.70 152.59 h-2.20 M157.40 148.68 h2.20 M405.70 148.68 h-2.20 M157.40 144.77 h3.50 M405.70 144.77 h-3.50 M157.40 140.86 h2.20 M405.70 140.86 h-2.20 M157.40 136.95 h2.20 M405.70 136.95 h-2.20 M157.40 133.04 h2.20 M405.70 133.04 h-2.20 M157.40 129.13 h2.20 M405.70 129.13 h-2.20 M157.40 125.22 h3.50 M405.70 125.22 h-3.50 M157.40 121.32 h2.20 M405.70 121.32 h-2.20 M157.40 117.41 h2.20 M405.70 117.41 h-2.20 M157.40 113.50 h2.20 M405.70 113.50 h-2.20 M157.40 109.59 h2.20 M405.70 109.59 h-2.20 M157.40 105.68 h3.50 M405.70 105.68 h-3.50 M157.40 101.77 h2.20 M405.70 101.77 h-2.20 M157.40 97.86 h2.20 M405.70 97.86 h-2.20 M157.40 93.95 h2.20 M405.70 93.95 h-2.20 M157.40 90.04 h2.20 M405.70 90.04 h-2.20 M157.40 86.14 h3.50 M405.70 86.14 h-3.50 M157.40 82.23 h2.20 M405.70 82.23 h-2.20 M157.40 78.32 h2.20 M405.70 78.32 h-2.20 M157.40 74.41 h2.20 M405.70 74.41 h-2.20 M157.40 70.50 h2.20 M405.70 70.50 h-2.20 M157.40 66.59 h3.50 M405.70 66.59 h-3.50 M157.40 62.68 h2.20 M405.70 62.68 h-2.20 M157.40 58.77 h2.20 M405.70 58.77 h-2.20 M157.40 54.86 h2.20 M405.70 54.86 h-2.20 M157.40 50.95 h2.20 M405.70 50.95 h-2.20 M157.40 47.05 h3.50 M405.70 47.05 h-3.50 M157.40 43.14 h2.20 M405.70 43.14 h-2.20 M157.40 39.23 h2.20 M405.70 39.23 h-2.20 M157.40 35.32 h2.20 M405.70 35.32 h-2.20 M157.40 31.41 h2.20 M405.70 31.41 h-2.20 M157.40 27.50 h3.50 M405.70 27.50 h-3.50 M162.50 177.40 v-3.50 M162.50 24.40 v3.50 M182.76 177.40 v-2.20 M182.76 24.40 v2.20 M194.61 177.40 v-2.20 M194.61 24.40 v2.20 M203.02 177.40 v-2.20 M203.02 24.40 v2.20 M209.54 177.40 v-2.20 M209.54 24.40 v2.20 M214.87 177.40 v-2.20 M214.87 24.40 v2.20 M219.38 177.40 v-2.20 M219.38 24.40 v2.20 M223.28 177.40 v-2.20 M223.28 24.40 v2.20 M226.72 177.40 v-2.20 M226.72 24.40 v2.20 M229.80 177.40 v-3.50 M229.80 24.40 v3.50 M250.06 177.40 v-2.20 M250.06 24.40 v2.20 M261.91 177.40 v-2.20 M261.91 24.40 v2.20 M270.32 177.40 v-2.20 M270.32 24.40 v2.20 M276.84 177.40 v-2.20 M276.84 24.40 v2.20 M282.17 177.40 v-2.20 M282.17 24.40 v2.20 M286.68 177.40 v-2.20 M286.68 24.40 v2.20 M290.58 177.40 v-2.20 M290.58 24.40 v2.20 M294.02 177.40 v-2.20 M294.02 24.40 v2.20 M297.10 177.40 v-3.50 M297.10 24.40 v3.50 M317.36 177.40 v-2.20 M317.36 24.40 v2.20 M329.21 177.40 v-2.20 M329.21 24.40 v2.20 M337.62 177.40 v-2.20 M337.62 24.40 v2.20 M344.14 177.40 v-2.20 M344.14 24.40 v2.20 M349.47 177.40 v-2.20 M349.47 24.40 v2.20 M353.98 177.40 v-2.20 M353.98 24.40 v2.20 M357.88 177.40 v-2.20 M357.88 24.40 v2.20 M361.32 177.40 v-2.20 M361.32 24.40 v2.20 M364.40 177.40 v-3.50 M364.40 24.40 v3.50 M384.66 177.40 v-2.20 M384.66 24.40 v2.20 M396.51 177.40 v-2.20 M396.51 24.40 v2.20 M404.92 177.40 v-2.20 M404.92 24.40 v2.20" stroke="#666" stroke-width="0.3" fill="none"/>
<text transform="translate(155.30 172.51) scale(1.000 1.035)" font-size="24" text-anchor="end">0.65</text>
<text transform="translate(155.30 152.97) scale(1.000 1.035)" font-size="24" text-anchor="end">0.70</text>
<text transform="translate(155.30 133.42) scale(1.000 1.035)" font-size="24" text-anchor="end">0.75</text>
<text transform="translate(155.30 113.88) scale(1.000 1.035)" font-size="24" text-anchor="end">0.80</text>
<text transform="translate(155.30 94.34) scale(1.000 1.035)" font-size="24" text-anchor="end">0.85</text>
<text transform="translate(155.30 74.79) scale(1.000 1.035)" font-size="24" text-anchor="end">0.90</text>
<text transform="translate(155.30 55.25) scale(1.000 1.035)" font-size="24" text-anchor="end">0.95</text>
<text transform="translate(155.30 35.70) scale(1.000 1.035)" font-size="24" text-anchor="end">1.00</text>
<text transform="translate(162.50 203.90) scale(1.000 1.040)" font-size="24" text-anchor="middle">10<tspan font-size="17" dy="-8.6">−4</tspan></text>
<text transform="translate(228.80 202.40) scale(1.030 1.050)" font-size="24" text-anchor="middle">0.001</text>
<text transform="translate(296.70 202.40) scale(1.030 1.050)" font-size="24" text-anchor="middle">0.01</text>
<text transform="translate(363.70 202.40) scale(1.030 1.050)" font-size="24" text-anchor="middle">0.1</text>
<text x="281.5" y="237" font-size="24" font-style="italic" text-anchor="middle">n</text>
<path d="M275.8 223.4 H288.4" stroke="#000" stroke-width="0.9"/>
<g transform="translate(98.4 131.7) rotate(-90)" fill="none" stroke="#000">
<g transform="translate(0.0 -11.5)"><path d="M3.6 2.6 C4.0 0.4 5.9 -0.2 6.5 2.4 L9.3 13.4 C9.9 16.2 11.8 15.8 12.3 13.6" stroke-width="1.9"/><path d="M14.3 0.4 L0.4 16.0" stroke-width="0.9"/></g>
<g transform="translate(23.9 -11.5)"><path d="M3.6 2.6 C4.0 0.4 5.9 -0.2 6.5 2.4 L9.3 13.4 C9.9 16.2 11.8 15.8 12.3 13.6" stroke-width="1.9"/><path d="M14.3 0.4 L0.4 16.0" stroke-width="0.9"/></g>
<path d="M15.6 3.6 L24.3 -16.8" stroke-width="1.3"/>
<text transform="translate(40.0 3.6) scale(1 1.09)" font-size="17" stroke="none">apr</text>
</g>
<g fill="none" stroke-width="1.9" stroke-linecap="butt" stroke-linejoin="round">
<path d="M162.50 27.77 L163.17 27.78 L163.85 27.79 L164.52 27.79 L165.20 27.80 L165.87 27.81 L166.54 27.82 L167.22 27.83 L167.89 27.84 L168.57 27.85 L169.24 27.86 L169.91 27.88 L170.59 27.89 L171.26 27.90 L171.93 27.91 L172.61 27.92 L173.28 27.94 L173.96 27.95 L174.63 27.96 L175.30 27.98 L175.98 27.99 L176.65 28.01 L177.33 28.02 L178.00 28.04 L178.67 28.05 L179.35 28.07 L180.02 28.09 L180.70 28.10 L181.37 28.12 L182.04 28.14 L182.72 28.16 L183.39 28.18 L184.07 28.20 L184.74 28.22 L185.41 28.24 L186.09 28.26 L186.76 28.28 L187.43 28.31 L188.11 28.33 L188.78 28.35 L189.46 28.38 L190.13 28.40 L190.80 28.43 L191.48 28.45 L192.15 28.48 L192.83 28.51 L193.50 28.54 L194.17 28.57 L194.85 28.60 L195.52 28.63 L196.20 28.66 L196.87 28.69 L197.54 28.73 L198.22 28.76 L198.89 28.79 L199.57 28.83 L200.24 28.87 L200.91 28.90 L201.59 28.94 L202.26 28.98 L202.93 29.02 L203.61 29.07 L204.28 29.11 L204.96 29.15 L205.63 29.20 L206.30 29.24 L206.98 29.29 L207.65 29.34 L208.33 29.39 L209.00 29.44 L209.67 29.49 L210.35 29.54 L211.02 29.60 L211.70 29.65 L212.37 29.71 L213.04 29.77 L213.72 29.83 L214.39 29.89 L215.07 29.95 L215.74 30.01 L216.41 30.08 L217.09 30.15 L217.76 30.21 L218.43 30.28 L219.11 30.36 L219.78 30.43 L220.46 30.51 L221.13 30.58 L221.80 30.66 L222.48 30.74 L223.15 30.82 L223.83 30.91 L224.50 30.99 L225.17 31.08 L225.85 31.17 L226.52 31.26 L227.20 31.36 L227.87 31.45 L228.54 31.55 L229.22 31.65 L229.89 31.75 L230.57 31.86 L231.24 31.97 L231.91 32.07 L232.59 32.19 L233.26 32.30 L233.93 32.42 L234.61 32.54 L235.28 32.66 L235.96 32.78 L236.63 32.91 L237.30 33.04 L237.98 33.17 L238.65 33.31 L239.33 33.44 L240.00 33.59 L240.67 33.73 L241.35 33.88 L242.02 34.03 L242.70 34.18 L243.37 34.33 L244.04 34.49 L244.72 34.66 L245.39 34.82 L246.07 34.99 L246.74 35.16 L247.41 35.34 L248.09 35.52 L248.76 35.70 L249.43 35.89 L250.11 36.08 L250.78 36.27 L251.46 36.47 L252.13 36.67 L252.80 36.88 L253.48 37.09 L254.15 37.30 L254.83 37.52 L255.50 37.74 L256.17 37.97 L256.85 38.20 L257.52 38.43 L258.20 38.67 L258.87 38.92 L259.54 39.16 L260.22 39.42 L260.89 39.67 L261.57 39.94 L262.24 40.20 L262.91 40.48 L263.59 40.75 L264.26 41.03 L264.93 41.32 L265.61 41.61 L266.28 41.91 L266.96 42.22 L267.63 42.52 L268.30 42.84 L268.98 43.16 L269.65 43.48 L270.33 43.81 L271.00 44.15 L271.67 44.49 L272.35 44.84 L273.02 45.19 L273.70 45.55 L274.37 45.92 L275.04 46.29 L275.72 46.67 L276.39 47.06 L277.07 47.45 L277.74 47.84 L278.41 48.25 L279.09 48.66 L279.76 49.08 L280.43 49.50 L281.11 49.93 L281.78 50.37 L282.46 50.82 L283.13 51.27 L283.80 51.73 L284.48 52.20 L285.15 52.67 L285.83 53.16 L286.50 53.65 L287.17 54.14 L287.85 54.65 L288.52 55.16 L289.20 55.68 L289.87 56.21 L290.54 56.75 L291.22 57.29 L291.89 57.84 L292.57 58.40 L293.24 58.97 L293.91 59.55 L294.59 60.14 L295.26 60.73 L295.93 61.34 L296.61 61.95 L297.28 62.57 L297.96 63.20 L298.63 63.84 L299.30 64.48 L299.98 65.14 L300.65 65.81 L301.33 66.48 L302.00 67.17 L302.67 67.86 L303.35 68.56 L304.02 69.28 L304.70 70.00 L305.37 70.73 L306.04 71.47 L306.72 72.22 L307.39 72.98 L308.07 73.76 L308.74 74.54 L309.41 75.33 L310.09 76.13 L310.76 76.94 L311.43 77.76 L312.11 78.60 L312.78 79.44 L313.46 80.29 L314.13 81.16 L314.80 82.03 L315.48 82.91 L316.15 83.81 L316.83 84.72 L317.50 85.63 L318.17 86.56 L318.85 87.50 L319.52 88.45 L320.20 89.41 L320.87 90.38 L321.54 91.37 L322.22 92.36 L322.89 93.36 L323.57 94.38 L324.24 95.41 L324.91 96.45 L325.59 97.50 L326.26 98.56 L326.93 99.63 L327.61 100.72 L328.28 101.81 L328.96 102.92 L329.63 104.04 L330.30 105.17 L330.98 106.31 L331.65 107.46 L332.33 108.63 L333.00 109.80 L333.67 110.99 L334.35 112.19 L335.02 113.40 L335.70 114.63 L336.37 115.86 L337.04 117.11 L337.72 118.37 L338.39 119.63 L339.07 120.92 L339.74 122.21 L340.41 123.51 L341.09 124.83 L341.76 126.16 L342.43 127.50 L343.11 128.85 L343.78 130.21 L344.46 131.58 L345.13 132.97 L345.80 134.36 L346.48 135.77 L347.15 137.19 L347.83 138.62 L348.50 140.07 L349.17 141.52 L349.85 142.98 L350.52 144.46 L351.20 145.95 L351.87 147.44 L352.54 148.95 L353.22 150.47 L353.89 152.00 L354.57 153.55 L355.24 155.10 L355.91 156.66 L356.59 158.24 L357.26 159.82 L357.93 161.41 L358.61 163.02 L359.28 164.64 L359.96 166.26 L360.63 167.90 L361.30 169.54 L361.98 171.20 L362.65 172.86 L363.33 174.54" stroke="#000"/>
<path d="M162.50 27.52 L163.30 27.52 L164.09 27.52 L164.89 27.52 L165.69 27.52 L166.48 27.53 L167.28 27.53 L168.08 27.53 L168.87 27.53 L169.67 27.53 L170.47 27.53 L171.26 27.53 L172.06 27.53 L172.86 27.54 L173.65 27.54 L174.45 27.54 L175.25 27.54 L176.04 27.54 L176.84 27.54 L177.64 27.55 L178.43 27.55 L179.23 27.55 L180.03 27.55 L180.82 27.55 L181.62 27.56 L182.42 27.56 L183.21 27.56 L184.01 27.56 L184.81 27.57 L185.60 27.57 L186.40 27.57 L187.20 27.57 L187.99 27.58 L188.79 27.58 L189.59 27.58 L190.38 27.59 L191.18 27.59 L191.98 27.59 L192.77 27.60 L193.57 27.60 L194.37 27.60 L195.16 27.61 L195.96 27.61 L196.76 27.62 L197.55 27.62 L198.35 27.63 L199.15 27.63 L199.94 27.64 L200.74 27.64 L201.54 27.65 L202.33 27.65 L203.13 27.66 L203.93 27.67 L204.72 27.67 L205.52 27.68 L206.32 27.69 L207.11 27.69 L207.91 27.70 L208.71 27.71 L209.50 27.72 L210.30 27.73 L211.10 27.73 L211.89 27.74 L212.69 27.75 L213.49 27.76 L214.28 27.77 L215.08 27.78 L215.88 27.79 L216.67 27.80 L217.47 27.81 L218.27 27.83 L219.06 27.84 L219.86 27.85 L220.66 27.86 L221.45 27.88 L222.25 27.89 L223.05 27.90 L223.84 27.92 L224.64 27.94 L225.44 27.95 L226.23 27.97 L227.03 27.98 L227.83 28.00 L228.62 28.02 L229.42 28.04 L230.22 28.06 L231.01 28.08 L231.81 28.10 L232.61 28.12 L233.40 28.14 L234.20 28.16 L235.00 28.19 L235.79 28.21 L236.59 28.24 L237.39 28.26 L238.18 28.29 L238.98 28.32 L239.78 28.34 L240.57 28.37 L241.37 28.40 L242.17 28.44 L242.96 28.47 L243.76 28.50 L244.56 28.53 L245.35 28.57 L246.15 28.61 L246.95 28.64 L247.74 28.68 L248.54 28.72 L249.34 28.76 L250.13 28.81 L250.93 28.85 L251.73 28.89 L252.52 28.94 L253.32 28.99 L254.12 29.04 L254.91 29.09 L255.71 29.14 L256.51 29.19 L257.30 29.25 L258.10 29.31 L258.90 29.37 L259.69 29.43 L260.49 29.49 L261.29 29.55 L262.08 29.62 L262.88 29.69 L263.68 29.76 L264.47 29.83 L265.27 29.90 L266.07 29.98 L266.86 30.06 L267.66 30.14 L268.46 30.22 L269.25 30.31 L270.05 30.39 L270.85 30.48 L271.64 30.58 L272.44 30.67 L273.24 30.77 L274.03 30.87 L274.83 30.97 L275.63 31.08 L276.42 31.19 L277.22 31.30 L278.02 31.42 L278.81 31.54 L279.61 31.66 L280.41 31.78 L281.20 31.91 L282.00 32.04 L282.79 32.18 L283.59 32.32 L284.39 32.46 L285.18 32.61 L285.98 32.76 L286.78 32.91 L287.57 33.07 L288.37 33.23 L289.17 33.40 L289.96 33.57 L290.76 33.75 L291.56 33.93 L292.35 34.11 L293.15 34.30 L293.95 34.50 L294.74 34.69 L295.54 34.90 L296.34 35.11 L297.13 35.32 L297.93 35.54 L298.73 35.77 L299.52 36.00 L300.32 36.23 L301.12 36.48 L301.91 36.72 L302.71 36.98 L303.51 37.24 L304.30 37.50 L305.10 37.78 L305.90 38.06 L306.69 38.34 L307.49 38.64 L308.29 38.93 L309.08 39.24 L309.88 39.56 L310.68 39.88 L311.47 40.21 L312.27 40.54 L313.07 40.89 L313.86 41.24 L314.66 41.60 L315.46 41.96 L316.25 42.34 L317.05 42.73 L317.85 43.12 L318.64 43.52 L319.44 43.93 L320.24 44.35 L321.03 44.78 L321.83 45.22 L322.63 45.67 L323.42 46.12 L324.22 46.59 L325.02 47.07 L325.81 47.56 L326.61 48.06 L327.41 48.56 L328.20 49.08 L329.00 49.61 L329.80 50.16 L330.59 50.71 L331.39 51.27 L332.19 51.85 L332.98 52.43 L333.78 53.03 L334.58 53.64 L335.37 54.27 L336.17 54.90 L336.97 55.55 L337.76 56.21 L338.56 56.89 L339.36 57.57 L340.15 58.27 L340.95 58.99 L341.75 59.72 L342.54 60.46 L343.34 61.22 L344.14 61.99 L344.93 62.77 L345.73 63.57 L346.53 64.38 L347.32 65.21 L348.12 66.06 L348.92 66.92 L349.71 67.80 L350.51 68.69 L351.31 69.60 L352.10 70.52 L352.90 71.46 L353.70 72.42 L354.49 73.39 L355.29 74.38 L356.09 75.39 L356.88 76.41 L357.68 77.46 L358.48 78.52 L359.27 79.60 L360.07 80.69 L360.87 81.81 L361.66 82.94 L362.46 84.09 L363.26 85.27 L364.05 86.46 L364.85 87.66 L365.65 88.89 L366.44 90.14 L367.24 91.41 L368.04 92.70 L368.83 94.01 L369.63 95.33 L370.43 96.68 L371.22 98.05 L372.02 99.44 L372.82 100.85 L373.61 102.29 L374.41 103.74 L375.21 105.21 L376.00 106.71 L376.80 108.23 L377.60 109.77 L378.39 111.33 L379.19 112.91 L379.99 114.52 L380.78 116.15 L381.58 117.80 L382.38 119.47 L383.17 121.17 L383.97 122.89 L384.77 124.63 L385.56 126.40 L386.36 128.19 L387.16 130.00 L387.95 131.84 L388.75 133.70 L389.55 135.58 L390.34 137.49 L391.14 139.42 L391.94 141.37 L392.73 143.35 L393.53 145.35 L394.33 147.38 L395.12 149.43 L395.92 151.50 L396.72 153.60 L397.51 155.72 L398.31 157.87 L399.11 160.04 L399.90 162.24 L400.70 164.46" stroke="#f00"/>
<path d="M162.50 27.56 L163.30 27.56 L164.09 27.56 L164.89 27.56 L165.69 27.56 L166.48 27.56 L167.28 27.56 L168.08 27.56 L168.87 27.56 L169.67 27.56 L170.47 27.56 L171.26 27.56 L172.06 27.56 L172.86 27.56 L173.65 27.57 L174.45 27.57 L175.25 27.57 L176.04 27.57 L176.84 27.57 L177.64 27.57 L178.43 27.57 L179.23 27.57 L180.03 27.57 L180.82 27.57 L181.62 27.57 L182.42 27.58 L183.21 27.58 L184.01 27.58 L184.81 27.58 L185.60 27.58 L186.40 27.58 L187.20 27.58 L187.99 27.58 L188.79 27.59 L189.59 27.59 L190.38 27.59 L191.18 27.59 L191.98 27.59 L192.77 27.59 L193.57 27.59 L194.37 27.60 L195.16 27.60 L195.96 27.60 L196.76 27.60 L197.55 27.60 L198.35 27.61 L199.15 27.61 L199.94 27.61 L200.74 27.61 L201.54 27.61 L202.33 27.62 L203.13 27.62 L203.93 27.62 L204.72 27.62 L205.52 27.63 L206.32 27.63 L207.11 27.63 L207.91 27.63 L208.71 27.64 L209.50 27.64 L210.30 27.64 L211.10 27.65 L211.89 27.65 L212.69 27.65 L213.49 27.66 L214.28 27.66 L215.08 27.66 L215.88 27.67 L216.67 27.67 L217.47 27.67 L218.27 27.68 L219.06 27.68 L219.86 27.69 L220.66 27.69 L221.45 27.69 L222.25 27.70 L223.05 27.70 L223.84 27.71 L224.64 27.71 L225.44 27.72 L226.23 27.72 L227.03 27.73 L227.83 27.73 L228.62 27.74 L229.42 27.75 L230.22 27.75 L231.01 27.76 L231.81 27.77 L232.61 27.77 L233.40 27.78 L234.20 27.79 L235.00 27.79 L235.79 27.80 L236.59 27.81 L237.39 27.82 L238.18 27.82 L238.98 27.83 L239.78 27.84 L240.57 27.85 L241.37 27.86 L242.17 27.87 L242.96 27.88 L243.76 27.89 L244.56 27.90 L245.35 27.91 L246.15 27.92 L246.95 27.93 L247.74 27.94 L248.54 27.95 L249.34 27.97 L250.13 27.98 L250.93 27.99 L251.73 28.00 L252.52 28.02 L253.32 28.03 L254.12 28.05 L254.91 28.06 L255.71 28.08 L256.51 28.09 L257.30 28.11 L258.10 28.13 L258.90 28.14 L259.69 28.16 L260.49 28.18 L261.29 28.20 L262.08 28.22 L262.88 28.24 L263.68 28.26 L264.47 28.28 L265.27 28.30 L266.07 28.32 L266.86 28.35 L267.66 28.37 L268.46 28.39 L269.25 28.42 L270.05 28.44 L270.85 28.47 L271.64 28.50 L272.44 28.52 L273.24 28.55 L274.03 28.58 L274.83 28.61 L275.63 28.64 L276.42 28.68 L277.22 28.71 L278.02 28.74 L278.81 28.78 L279.61 28.81 L280.41 28.85 L281.20 28.89 L282.00 28.93 L282.79 28.97 L283.59 29.01 L284.39 29.05 L285.18 29.10 L285.98 29.14 L286.78 29.19 L287.57 29.23 L288.37 29.28 L289.17 29.33 L289.96 29.38 L290.76 29.43 L291.56 29.49 L292.35 29.54 L293.15 29.60 L293.95 29.66 L294.74 29.72 L295.54 29.78 L296.34 29.84 L297.13 29.91 L297.93 29.97 L298.73 30.04 L299.52 30.11 L300.32 30.18 L301.12 30.26 L301.91 30.33 L302.71 30.41 L303.51 30.49 L304.30 30.57 L305.10 30.65 L305.90 30.73 L306.69 30.82 L307.49 30.91 L308.29 31.00 L309.08 31.10 L309.88 31.19 L310.68 31.29 L311.47 31.39 L312.27 31.49 L313.07 31.60 L313.86 31.71 L314.66 31.82 L315.46 31.93 L316.25 32.04 L317.05 32.16 L317.85 32.28 L318.64 32.40 L319.44 32.53 L320.24 32.66 L321.03 32.79 L321.83 32.92 L322.63 33.06 L323.42 33.20 L324.22 33.34 L325.02 33.49 L325.81 33.64 L326.61 33.79 L327.41 33.94 L328.20 34.10 L329.00 34.26 L329.80 34.43 L330.59 34.59 L331.39 34.76 L332.19 34.94 L332.98 35.11 L333.78 35.29 L334.58 35.48 L335.37 35.66 L336.17 35.85 L336.97 36.05 L337.76 36.24 L338.56 36.44 L339.36 36.65 L340.15 36.85 L340.95 37.06 L341.75 37.28 L342.54 37.49 L343.34 37.71 L344.14 37.93 L344.93 38.16 L345.73 38.39 L346.53 38.62 L347.32 38.86 L348.12 39.10 L348.92 39.34 L349.71 39.59 L350.51 39.83 L351.31 40.09 L352.10 40.34 L352.90 40.60 L353.70 40.86 L354.49 41.12 L355.29 41.39 L356.09 41.66 L356.88 41.93 L357.68 42.20 L358.48 42.48 L359.27 42.76 L360.07 43.04 L360.87 43.33 L361.66 43.61 L362.46 43.90 L363.26 44.19 L364.05 44.48 L364.85 44.78 L365.65 45.07 L366.44 45.37 L367.24 45.67 L368.04 45.97 L368.83 46.27 L369.63 46.57 L370.43 46.88 L371.22 47.18 L372.02 47.48 L372.82 47.79 L373.61 48.09 L374.41 48.40 L375.21 48.70 L376.00 49.01 L376.80 49.31 L377.60 49.62 L378.39 49.92 L379.19 50.22 L379.99 50.52 L380.78 50.82 L381.58 51.12 L382.38 51.42 L383.17 51.71 L383.97 52.00 L384.77 52.29 L385.56 52.58 L386.36 52.86 L387.16 53.14 L387.95 53.42 L388.75 53.70 L389.55 53.97 L390.34 54.23 L391.14 54.50 L391.94 54.75 L392.73 55.01 L393.53 55.26 L394.33 55.50 L395.12 55.74 L395.92 55.97 L396.72 56.20 L397.51 56.42 L398.31 56.64 L399.11 56.85 L399.90 57.05 L400.70 57.25" stroke="#000" stroke-dasharray="4 10.8"/>
</g>
</svg>
</body></html>
